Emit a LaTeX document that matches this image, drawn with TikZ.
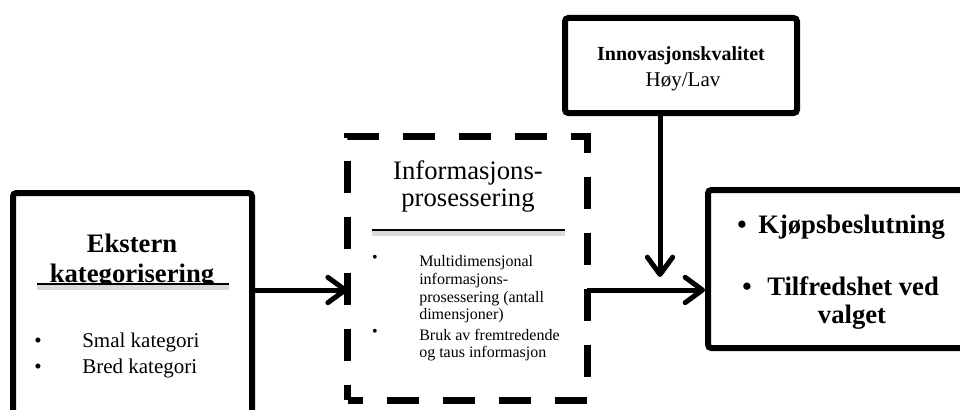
\documentclass[tikz,border=0pt]{standalone}
\usepackage{fontspec}
\setmainfont{Liberation Serif}
\usetikzlibrary{arrows.meta,fit}
\begin{document}
\begin{tikzpicture}[x=0.75pt,y=-0.75pt,
  solidbox/.style={draw, line width=4.5pt, rounded corners=2.5pt, inner sep=0pt},
  area/.style={inner sep=0pt},
  dashbox/.style={line width=5.25pt, dash pattern=on 24pt off 18pt, dash phase=12.75pt},
  flow/.style={line width=3.75pt, -{Straight Barb[length=13pt,width=19pt,round]}},
  big/.style={font=\fontsize{20}{24}\selectfont},
  bigbold/.style={font=\fontsize{20}{24}\selectfont\bfseries},
  mid/.style={font=\fontsize{15.75}{19}\selectfont},
  midbold/.style={font=\fontsize{15}{18}\selectfont\bfseries},
  small/.style={font=\fontsize{12}{14}\selectfont},
  txt/.style={inner sep=0pt, anchor=base},
  txtL/.style={inner sep=0pt, anchor=base west},
  rule/.style={line width=1.7pt},
  ruleshadow/.style={line width=3.5pt, draw=black!15},
]
\useasboundingbox (0,0) rectangle (960,410);
\clip (0,0) rectangle (960,410);
\fill[white] (0,0) rectangle (960,410);

% boxes
\node[solidbox, fit={(13,193) (252,450)}] (ekstern) {};
\node[area, fit={(348,137) (587,400)}] (info) {};
\node[solidbox, fit={(565,18) (797,113)}] (innov) {};
\node[solidbox, fit={(708,190) (1000,348)}] (result) {};

\draw[dashbox] (info.south west) -- (info.north west) -- (info.north east)
  -- (info.south east) -- cycle;

% left box text
\node[txt, bigbold] (ek1) at (132,252) {Ekstern};
\node[txt, bigbold] (ek2) at (132,282) {kategorisering};
\coordinate (ekrulea) at (37,284);
\coordinate (ekruleb) at (229,284);
\draw[ruleshadow] ([yshift=-2.5pt]ekrulea) -- ([yshift=-2.5pt]ekruleb);
\draw[rule] (ekrulea) -- (ekruleb);
\node[txt, mid] (ekb1) at (38,347) {•};
\node[txtL, mid] (ekt1) at (82,347) {Smal kategori};
\node[txt, mid] (ekb2) at (38,373) {•};
\node[txtL, mid] (ekt2) at (82,373) {Bred kategori};

% processing box text
\node[txt, big] (in1) at (468,179) {Informasjons-};
\node[txt, big] (in2) at (468,206) {prosessering};
\coordinate (inrulea) at (372,230);
\coordinate (inruleb) at (565,230);
\draw[ruleshadow] ([yshift=-2.5pt]inrulea) -- ([yshift=-2.5pt]inruleb);
\draw[rule] (inrulea) -- (inruleb);
\node[txt, small] (inb1) at (375,262) {•};
\node[txtL, small] (int1) at (419,266) {Multidimensjonal};
\node[txtL, small] (int2) at (419,284) {informasjons-};
\node[txtL, small] (int3) at (419,302) {prosessering (antall};
\node[txtL, small] (int4) at (419,319) {dimensjoner)};
\node[txt, small] (inb2) at (375,336) {•};
\node[txtL, small] (int5) at (419,340) {Bruk av fremtredende};
\node[txtL, small] (int6) at (419,357) {og taus informasjon};

% quality box text
\node[txt, midbold] (iq1) at (681,61) {Innovasjonskvalitet};
\node[txt, mid] (iq2) at (683,87) {Høy/Lav};

% outcome box text
\node[txt, bigbold] (rb1) at (742,233) {•};
\node[txtL, bigbold] (rt1) at (758,233) {Kjøpsbeslutning};
\node[txt, bigbold] (rb2) at (747,295) {•};
\node[txtL, bigbold] (rt2) at (767,295) {Tilfredshet ved};
\node[txt, bigbold] (rt3) at (852,323) {valget};

% connectors
\coordinate (row) at (0,290);
\coordinate (drop) at (660,0);
\coordinate (meet) at (660,277);
\draw[flow] (ekstern.east |- row) -- (info.west |- row);
\draw[flow] (info.east |- row) -- (result.west |- row);
\draw[flow] (innov.south -| drop) -- (meet);
\end{tikzpicture}
\end{document}
